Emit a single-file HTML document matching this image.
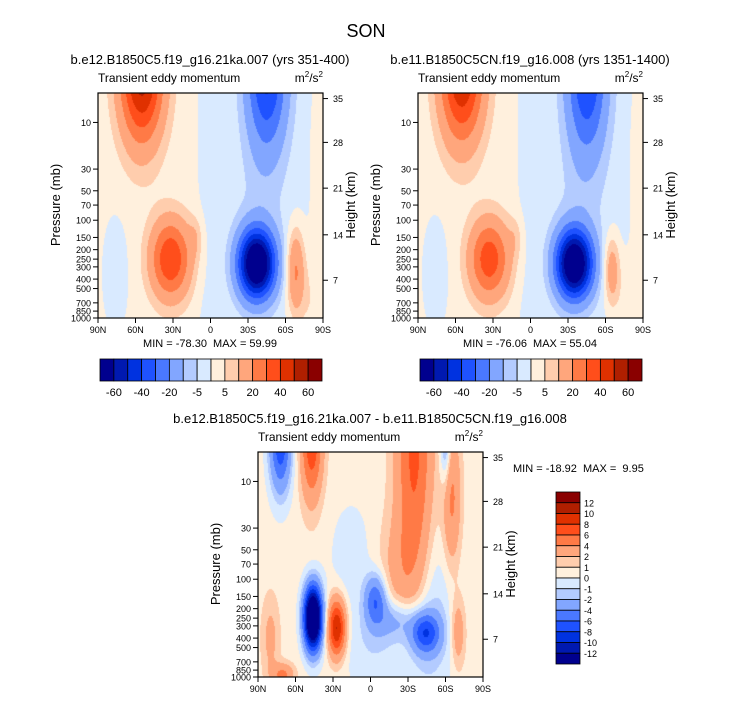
<!DOCTYPE html>
<html><head><meta charset="utf-8"><style>
html,body{margin:0;padding:0;background:#fff;}
#root{position:relative;width:733px;height:701px;overflow:hidden;font-family:"Liberation Sans",Arial,sans-serif;}
canvas{position:absolute;}
svg{position:absolute;left:0;top:0;}
</style></head><body>
<div id="root">
<canvas id="c1" width="225" height="225" style="left:98px;top:93px"></canvas>
<canvas id="c2" width="225" height="225" style="left:418px;top:93px"></canvas>
<canvas id="c3" width="225" height="225" style="left:258px;top:452px"></canvas>
<svg id="ov" width="733" height="701"></svg>
</div>
<script>
// ---- data ----
const colors = ["#00008e","#0019b0","#0032e0","#1f52ff","#4a78ff","#82a6ff","#b3cbff","#d9eaff","#fff0dd","#ffcdad","#ffa67c","#ff7a46","#ff4e1b","#e03100","#b01f00","#8a0000"];
const levelsAbs = [-60,-50,-40,-30,-20,-10,-5,0,5,10,20,30,40,50,60];
const levelsDiff = [-12,-10,-8,-6,-4,-2,-1,0,1,2,4,6,8,10,12];
const absCbLabels = ["-60","-40","-20","-5","5","20","40","60"];
const pressureTicks = [10,30,50,70,100,150,200,250,300,400,500,700,850,1000];
const heightTicks = [7,14,21,28,35];
const heightPressures = [411,141,47,16,5.7];
const latTicks = [90,60,30,0,-30,-60,-90];
const latLabels = ["90N","60N","30N","0","30S","60S","90S"];
// blobs: [lat, pressure, amplitude, lat-sigma, logp-sigma]
const blobs1 = [[55,3,55,12,0.5],[-45,3,-42,11,0.55],[32,250,38,11,0.28],[-37,280,-82,10,0.24],[-68,330,22,5,0.3],[12,150,6,4,0.15],[-80,700,5,8,0.3],[76,350,-5,7,0.4],[-40,80,-3,15,0.5],[-86,30,3,6,1.0]];
const blobs2 = [[55,3,50,12,0.5],[-45,3,-40,11,0.58],[33,250,35,11,0.28],[-35,280,-80,10,0.24],[-65,330,17,4.5,0.25],[12,150,5,4,0.15],[-80,700,5,8,0.3],[76,350,-5,7,0.4],[-40,80,-3,15,0.5],[-86,30,3,6,1.0]];
const blobs3 = [[72,4,-8,6,0.35],[47,4,7,6,0.4],[46,250,-21,5,0.22],[-45,200,-3,14,0.6],[27,315,10,5,0.2],[-4,163,-6,6,0.18],[-44,355,-7,8,0.14],[-20,260,-3,12,0.15],[-35,5,6,10,0.9],[-30,100,3,15,0.45],[-65,15,4,5,0.5],[-60,4,-4,3,0.3],[-70,350,3,4,0.25],[80,400,2,5,0.3],[70,950,4,6,0.08],[15,60,-1.2,12,0.4],[-5,500,-1.5,20,0.3]];
const base1 = [1.5,-1.5];
const base3 = [0.5,0.5];

const LPT = Math.log10(5), LPB = 3;
function field(lat, lp, blobs, base){
  let v = base[1] + (base[0]-base[1])*(0.5+0.5*Math.tanh((lat-10)/6));
  for(const b of blobs){
    const dl=(lat-b[0])/b[3], dp=(lp-Math.log10(b[1]))/b[4];
    v += b[2]*Math.exp(-0.5*(dl*dl+dp*dp));
  }
  return v;
}
function draw(id, blobs, base, levels){
  const ctx=document.getElementById(id).getContext('2d');
  const W=225,H=225;
  for(let j=0;j<H;j++){
    const lp=LPT+(j+0.5)/H*(LPB-LPT);
    for(let i=0;i<W;i++){
      const lat=90-(i+0.5)/W*180;
      const v=field(lat,lp,blobs,base);
      let k=0; while(k<levels.length && v>=levels[k]) k++;
      ctx.fillStyle=colors[k]; ctx.fillRect(i,j,1,1);
    }
  }
}
draw('c1',blobs1,base1,levelsAbs);
draw('c2',blobs2,base1,levelsAbs);
draw('c3',blobs3,base3,levelsDiff);

// ---- overlay ----
const NS="http://www.w3.org/2000/svg";
const ov=document.getElementById('ov');
function el(tag,attrs,parent){const e=document.createElementNS(NS,tag);for(const k in attrs)e.setAttribute(k,attrs[k]);(parent||ov).appendChild(e);return e;}
function txt(x,y,s,size,anchor,name,extra){const t=el('text',Object.assign({x:x,y:y,'font-size':size,'text-anchor':anchor||'middle',fill:'#000','font-family':'Liberation Sans, Arial, sans-serif'},extra||{}));t.textContent=s;
  
  
  return t;}
txt(366,37,"SON",18,'middle','figure-title');
function yOfP(top,p){return top+225*(Math.log10(p)-LPT)/(LPB-LPT);}
function panel(L,T,title,name){
  const g=el('g',{});
  
  
  txt(L+112,T-29,title,13,'middle',name+'-title');
  txt(L,T-11,"Transient eddy momentum",12,'start',name+'-subtitle');
  const u=txt(L+225,T-11,"m",12,'end',name+'-units');
  u.innerHTML='m<tspan font-size="8" dy="-5">2</tspan><tspan dy="5">/s</tspan><tspan font-size="8" dy="-5">2</tspan>';
  const fr=el('rect',{x:L,y:T,width:225,height:225,fill:'none',stroke:'#000','stroke-width':1.2},g);
  
  
  for(const p of pressureTicks){const y=yOfP(T,p);el('line',{x1:L-5,x2:L,y1:y,y2:y,stroke:'#000'},g);
    txt(L-7,y+3.5,String(p),9,'end',name+'-pressure-tick');}
  heightTicks.forEach((h,i)=>{const y=yOfP(T,heightPressures[i]);el('line',{x1:L+225,x2:L+230,y1:y,y2:y,stroke:'#000'},g);
    txt(L+235,y+3.5,String(h),9,'start',name+'-height-tick');});
  latTicks.forEach((lat,i)=>{const x=L+(90-lat)/180*225;el('line',{x1:x,x2:x,y1:T+225,y2:T+230,stroke:'#000'},g);
    txt(x,T+240,latLabels[i],9,'middle',name+'-lat-tick');});
  txt(0,0,"Pressure (mb)",13,'middle',name+'-y-axis-title',{transform:`translate(${L-38},${T+112}) rotate(-90)`});
  txt(0,0,"Height (km)",13,'middle',name+'-right-axis-title',{transform:`translate(${L+257},${T+112}) rotate(-90)`});
}
panel(98,93,"b.e12.B1850C5.f19_g16.21ka.007 (yrs 351-400)","panel-1");
panel(418,93,"b.e11.B1850C5CN.f19_g16.008 (yrs 1351-1400)","panel-2");
panel(258,452,"b.e12.B1850C5.f19_g16.21ka.007 - b.e11.B1850C5CN.f19_g16.008","difference-panel");
txt(210,347,"MIN = -78.30\u00a0\u00a0MAX = 59.99",11,'middle','panel-1-min-max');
txt(530,347,"MIN = -76.06\u00a0\u00a0MAX = 55.04",11,'middle','panel-2-min-max');
txt(513,472,"MIN = -18.92\u00a0\u00a0MAX =\u00a0\u00a09.95",11,'start','difference-min-max');
function hbar(L,name){
  const w=222/16;
  colors.forEach((c,i)=>{const r=el('rect',{x:L+i*w,y:359,width:w,height:22,fill:c,stroke:'#000','stroke-width':0.8});
    
    });
  absCbLabels.forEach((s,k)=>{txt(L+(2*k+1)*w,396,s,11,'middle',name+'-label');});
}
hbar(100,'panel-1-colorbar');
hbar(420,'panel-2-colorbar');
const vh=172/16;
colors.slice().reverse().forEach((c,i)=>{const r=el('rect',{x:556,y:492+i*vh,width:24,height:vh,fill:c,stroke:'#000','stroke-width':0.8});
  
  });
levelsDiff.slice().reverse().forEach((v,i)=>{txt(584,492+(i+1)*vh+3.5,String(v),9,'start','difference-colorbar-label');});
</script>
</body></html>
